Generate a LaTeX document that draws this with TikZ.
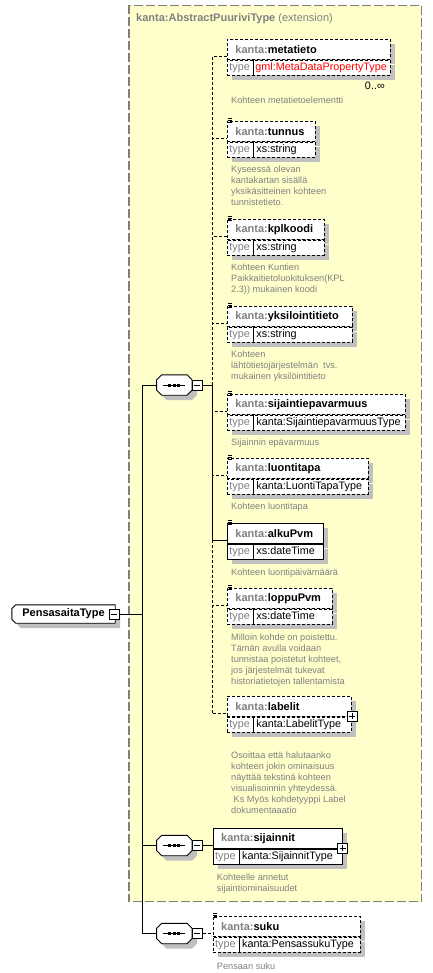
\documentclass[tikz,border=0pt]{standalone}
\usepackage{fontspec}
\setmainfont{Liberation Sans}
\usepackage{tikz}
\usetikzlibrary{shadows}
\usetikzlibrary{positioning}
\usetikzlibrary{backgrounds}
\definecolor{extfill}{HTML}{FFFFCC}
\definecolor{txtgray}{HTML}{808080}
\definecolor{shgray}{HTML}{C0C0C0}
\definecolor{typered}{HTML}{FF0000}

\begin{document}
\begin{tikzpicture}[
			x=1pt, y=1pt,
			conn/.style={line width=0.9pt},
			opt/.style={dash pattern=on 3pt off 2pt},
			shadowed/.style={drop shadow={shadow xshift=5pt, shadow yshift=-5pt, fill=shgray, opacity=1}},
			extbox/.style={fill=extfill, draw=txtgray, line width=1.2pt, dash pattern=on 9pt off 3pt},
			elhead/.style={draw, line width=0.9pt, fill=white, anchor=north west, shadowed,
				inner xsep=8pt, inner ysep=0pt, minimum height=20pt, align=left,
				font=\fontsize{11}{13}\selectfont\bfseries},
			eltype/.style={draw, line width=0.9pt, fill=white, anchor=north west, shadowed,
				inner xsep=2pt, inner ysep=0pt, minimum height=15pt, align=left,
				font=\fontsize{10.8}{13}\selectfont,
				path picture={\draw[solid, line width=0.9pt] ([xshift=26pt]path picture bounding box.north west) -- ([xshift=26pt]path picture bounding box.south west);}},
			desc/.style={anchor=north west, inner sep=0pt, align=left, text=txtgray,
				font=\fontsize{9.2}{11}\selectfont},
			seq/.style={minimum width=35pt, minimum height=20pt, inner sep=0pt},
			seqline/.style={draw, line width=0.9pt, fill=white, shadowed},
			root/.style={minimum width=103pt, minimum height=18pt, inner sep=0pt,
				font=\fontsize{11}{13}\selectfont\bfseries},
			toggle/.style={draw, line width=0.7pt, fill=white, minimum size=10pt, inner sep=0pt,
				path picture={\draw[line width=0.7pt] ([xshift=2pt]path picture bounding box.west) -- ([xshift=-2pt]path picture bounding box.east);}},
			toggleplus/.style={draw, line width=0.7pt, fill=white, minimum size=10pt, inner sep=0pt,
				path picture={
					\draw[line width=0.7pt] ([xshift=2pt]path picture bounding box.west) -- ([xshift=-2pt]path picture bounding box.east);
					\draw[line width=0.7pt] ([yshift=2pt]path picture bounding box.south) -- ([yshift=-2pt]path picture bounding box.north);
				}},
			]
			\useasboundingbox (0,0) rectangle (433,-973);
			%% extension base
			\node[anchor=west, inner sep=0pt, text=txtgray, font=\fontsize{11}{13}\selectfont] (ext-title) at (136,-19) {\textbf{kanta:AbstractPuuriviType} (extension)};
			%% elements of the extension
			\node[elhead, opt, text width=147pt] (metatieto) at (227,-39) {\textcolor{txtgray}{kanta:}metatieto};
			\node[eltype, opt, text width=159pt] (metatieto-t) at (metatieto.south west) {\makebox[24pt][l]{\textcolor{txtgray}{type}}\hspace{2pt}\textcolor{typered}{gml:MetaDataPropertyType}};
			\node[anchor=east, inner sep=0pt, font=\fontsize{10.8}{13}\selectfont] (metatieto-c) at ([xshift=-6pt, yshift=-10pt]metatieto-t.south east) {0..∞};
			\node[desc] (metatieto-d) at ([xshift=4pt, yshift=-20.5pt]metatieto-t.south west) {Kohteen metatietoelementti};

			\node[elhead, opt, text width=72pt] (tunnus) at (227,-121) {\textcolor{txtgray}{kanta:}tunnus};
			\node[eltype, opt, text width=84pt] (tunnus-t) at (tunnus.south west) {\makebox[24pt][l]{\textcolor{txtgray}{type}}\hspace{3pt}xs:string};
			\node[desc] (tunnus-d) at ([xshift=4pt, yshift=-8pt]tunnus-t.south west) {Kyseessä olevan\\kantakartan sisällä\\yksikäsitteinen kohteen\\tunnistetieto.};

			\node[elhead, opt, text width=81pt] (kplkoodi) at (227,-219) {\textcolor{txtgray}{kanta:}kplkoodi};
			\node[eltype, opt, text width=93pt] (kplkoodi-t) at (kplkoodi.south west) {\makebox[24pt][l]{\textcolor{txtgray}{type}}\hspace{3pt}xs:string};
			\node[desc] (kplkoodi-d) at ([xshift=4pt, yshift=-8pt]kplkoodi-t.south west) {Kohteen Kuntien\\Paikkaitietoluokituksen(KPL\\2.3)) mukainen koodi};

			\node[elhead, opt, text width=109pt] (yksilointitieto) at (227,-306) {\textcolor{txtgray}{kanta:}yksilointitieto};
			\node[eltype, opt, text width=121pt] (yksilointitieto-t) at (yksilointitieto.south west) {\makebox[24pt][l]{\textcolor{txtgray}{type}}\hspace{3pt}xs:string};
			\node[desc] (yksilointitieto-d) at ([xshift=4pt, yshift=-8pt]yksilointitieto-t.south west) {Kohteen\\lähtötietojärjestelmän~ tvs.\\mukainen yksilöintitieto};

			\node[elhead, opt, text width=162pt] (sijaintiepavarmuus) at (227,-394) {\textcolor{txtgray}{kanta:}sijaintiepavarmuus};
			\node[eltype, opt, text width=174pt] (sijaintiepavarmuus-t) at (sijaintiepavarmuus.south west) {\makebox[24pt][l]{\textcolor{txtgray}{type}}\hspace{3pt}kanta:SijaintiepavarmuusType};
			\node[desc] (sijaintiepavarmuus-d) at ([xshift=4pt, yshift=-8pt]sijaintiepavarmuus-t.south west) {Sijainnin epävarmuus};

			\node[elhead, opt, text width=125pt] (luontitapa) at (227,-458) {\textcolor{txtgray}{kanta:}luontitapa};
			\node[eltype, opt, text width=137pt] (luontitapa-t) at (luontitapa.south west) {\makebox[24pt][l]{\textcolor{txtgray}{type}}\hspace{3pt}kanta:LuontiTapaType};
			\node[desc] (luontitapa-d) at ([xshift=4pt, yshift=-8pt]luontitapa-t.south west) {Kohteen luontitapa};

			\node[elhead, text width=80pt] (alkuPvm) at (227,-523) {\textcolor{txtgray}{kanta:}alkuPvm};
			\node[eltype, text width=92pt] (alkuPvm-t) at (alkuPvm.south west) {\makebox[24pt][l]{\textcolor{txtgray}{type}}\hspace{3pt}xs:dateTime};
			\node[desc] (alkuPvm-d) at ([xshift=4pt, yshift=-8.5pt]alkuPvm-t.south west) {Kohteen luontipäivämäärä};

			\node[elhead, opt, text width=89pt] (loppuPvm) at (227,-588) {\textcolor{txtgray}{kanta:}loppuPvm};
			\node[eltype, opt, text width=101pt] (loppuPvm-t) at (loppuPvm.south west) {\makebox[24pt][l]{\textcolor{txtgray}{type}}\hspace{3pt}xs:dateTime};
			\node[desc] (loppuPvm-d) at ([xshift=4pt, yshift=-8.5pt]loppuPvm-t.south west) {Milloin kohde on poistettu.\\Tämän avulla voidaan\\tunnistaa poistetut kohteet,\\jos järjestelmät tukevat\\historiatietojen tallentamista};

			\node[elhead, opt, text width=108pt] (labelit) at (227,-696) {\textcolor{txtgray}{kanta:}labelit};
			\node[eltype, opt, text width=120pt] (labelit-t) at (labelit.south west) {\makebox[24pt][l]{\textcolor{txtgray}{type}}\hspace{3pt}kanta:LabelitType};
			\node[toggleplus] (labelit-p) at ([yshift=1pt]labelit.south east) {};
			\node[desc] (labelit-d) at ([xshift=4pt, yshift=-18.7pt]labelit-t.south west) {Osoittaa että halutaanko\\kohteen jokin ominaisuus\\näyttää tekstinä kohteen\\visualisoinnin yhteydessä.\\\hspace*{2.5pt}Ks Myös kohdetyyppi Label\\dokumentaaatio};

			%% elements outside the extension
			\node[elhead, text width=113pt] (sijainnit) at (212.7,-828) {\textcolor{txtgray}{kanta:}sijainnit};
			\node[eltype, text width=125pt] (sijainnit-t) at (sijainnit.south west) {\makebox[24pt][l]{\textcolor{txtgray}{type}}\hspace{3pt}kanta:SijainnitType};
			\node[toggleplus] (sijainnit-p) at ([yshift=1pt]sijainnit.south east) {};
			\node[desc] (sijainnit-d) at ([xshift=4pt, yshift=-8.5pt]sijainnit-t.south west) {Kohteelle annetut\\sijaintiominaisuudet};

			\node[elhead, opt, text width=131pt] (suku) at (212.7,-916) {\textcolor{txtgray}{kanta:}suku};
			\node[eltype, opt, text width=143pt] (suku-t) at (suku.south west) {\makebox[24pt][l]{\textcolor{txtgray}{type}}\hspace{3pt}kanta:PensassukuType};
			\node[desc] (suku-d) at ([xshift=4pt, yshift=-9.5pt]suku-t.south west) {Pensaan suku};

			%% documentation marks
			\foreach \n in {tunnus,kplkoodi,yksilointitieto,sijaintiepavarmuus,luontitapa,alkuPvm,loppuPvm,suku}
				\foreach \k in {3pt,1pt,-1pt}
					\draw[line width=0.7pt] ([xshift=0.5pt, yshift=\k]\n.north west) -- ++(4pt,0pt);

			%% root and sequences
			\node[root] (root) at (63.5,-614) {PensasaitaType\hspace{14pt}};
			\node[seq] (seq1) at (174.3,-385) {};
			\node[seq] (seq2) at (174.3,-845.5) {};
			\node[seq] (seq3) at (174.3,-933.5) {};
			\foreach \s in {seq1,seq2,seq3} {
				\draw[seqline] ([xshift=5pt]\s.north west) -- ([xshift=-5pt]\s.north east) -- ([yshift=-5pt]\s.north east)
					-- ([yshift=5pt]\s.south east) -- ([xshift=-5pt]\s.south east) -- ([xshift=5pt]\s.south west)
					-- ([yshift=5pt]\s.south west) -- ([yshift=-5pt]\s.north west) -- cycle;
				\draw[line width=0.9pt] ([xshift=-11pt]\s.center) -- ([xshift=11pt]\s.center);
				\foreach \d in {-6pt,-1.5pt,3pt}
					\fill[black] ([xshift=\d, yshift=-1.5pt]\s.center) rectangle ++(3pt,3pt);
			}
			\node[toggle] (root-m) at ([xshift=-1pt]root.east) {};
			\node[toggle, right=0pt of seq1] (seq1-m) {};
			\node[toggle, right=0pt of seq2] (seq2-m) {};
			\node[toggle, right=0pt of seq3] (seq3-m) {};

			\begin{scope}[on background layer]
				\draw[extbox] (129,-5.5) rectangle (421.7,-901.7);
				\draw[seqline] ([xshift=4pt]root.north west) -- (root.north east) -- (root.south east)
					-- ([xshift=4pt]root.south west) -- ([yshift=4pt]root.south west) -- ([yshift=-4pt]root.north west) -- cycle;
			\end{scope}

			%% connectors
			\coordinate (root-j) at (142,-614);
			\coordinate[right=9.3pt of seq1-m] (seq1-j);
			\draw[conn] (root-m) -- (root-j);
			\draw[conn] (root-j) |- (seq1);
			\draw[conn] (root-j) |- (seq2);
			\draw[conn] (root-j) |- (seq3);
			\draw[conn] (seq1-m) -- (seq1-j);
			\draw[conn, opt] (seq1-j) |- ([yshift=3pt]metatieto.south west);
			\draw[conn, opt] (seq1-j) |- ([yshift=3pt]tunnus.south west);
			\draw[conn, opt] (seq1-j) |- ([yshift=3pt]kplkoodi.south west);
			\draw[conn, opt] (seq1-j) |- ([yshift=3pt]yksilointitieto.south west);
			\draw[conn, opt] (seq1-j) |- ([yshift=3pt]sijaintiepavarmuus.south west);
			\draw[conn, opt] (seq1-j) |- ([yshift=3pt]luontitapa.south west);
			\draw[conn] (seq1-j) |- ([yshift=3pt]alkuPvm.south west);
			\draw[conn, opt] (seq1-j) |- ([yshift=3pt]loppuPvm.south west);
			\draw[conn, opt] (seq1-j) |- ([yshift=3pt]labelit.south west);
			\draw[conn] (seq2-m) -- (seq2-m.east -| sijainnit.west);
			\draw[conn, opt] (seq3-m) -- (seq3-m.east -| suku.west);
		\end{tikzpicture}
\end{document}
